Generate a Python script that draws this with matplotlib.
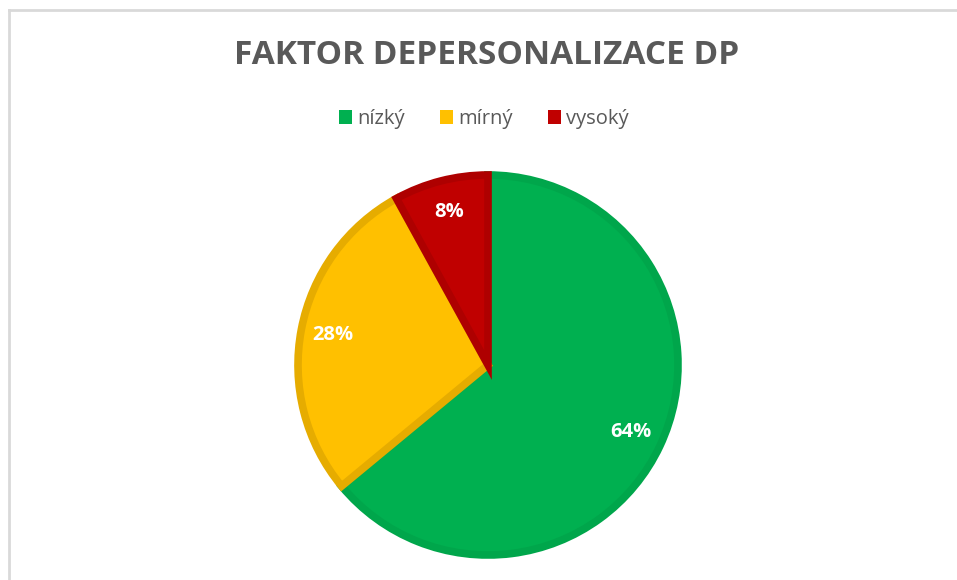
import matplotlib
matplotlib.use("Agg")
import matplotlib.pyplot as plt
from matplotlib.patches import Patch
from matplotlib.lines import Line2D

# data
categories = ["nízký", "mírný", "vysoký"]
shares = [64, 28, 8]
fill_colors = ["#00B050", "#FFC000", "#C00000"]
edge_colors = ["#00A64B", "#E6AC00", "#AE0000"]
title = "FAKTOR DEPERSONALIZACE DP"

W, H = 957, 580
fig = plt.figure(figsize=(W / 100, H / 100), dpi=100)
fig.patch.set_facecolor("white")

# light gray frame (top and left visible in the reference)
fig.add_artist(Line2D([9 / W, 9 / W], [0, 1 - 10 / H], color="#D9D9D9", lw=2, transform=fig.transFigure))
fig.add_artist(Line2D([9 / W, 1], [1 - 10 / H, 1 - 10 / H], color="#D9D9D9", lw=2, transform=fig.transFigure))

# pie axes: centre (488, 365) px, radius 194 px
cx, cy, r = 488, 365, 194
ax = fig.add_axes([(cx - r) / W, (H - cy - r) / H, 2 * r / W, 2 * r / H])

wedges, texts, autotexts = ax.pie(
    shares, colors=fill_colors, startangle=90, counterclock=False,
    radius=190 / 194, autopct="%d%%", pctdistance=0.83,
    wedgeprops=dict(linewidth=5.5),
    textprops=dict(color="white", fontsize=14.5, fontweight="bold", family="Open Sans"),
)
for w, ec in zip(wedges, edge_colors):
    w.set_edgecolor(ec)
    w.set_joinstyle("miter")
ax.set_xlim(-1, 1)
ax.set_ylim(-1, 1)
ax.set_aspect("equal")
ax.axis("off")

fig.text(487 / W, 1 - 55 / H, title, ha="center", va="center", fontsize=24,
         fontweight="bold", color="#595959", family="Open Sans")

handles = [Patch(facecolor=c, edgecolor="none") for c in fill_colors]
fig.legend(handles, categories, loc="center", bbox_to_anchor=(484 / W, 1 - 119 / H),
           ncol=3, frameon=False, handlelength=0.65, handleheight=0.7,
           handletextpad=0.25, columnspacing=1.75,
           prop=dict(family="Open Sans", size=14.5), labelcolor="#595959")

fig.savefig("out.png", dpi=100)
